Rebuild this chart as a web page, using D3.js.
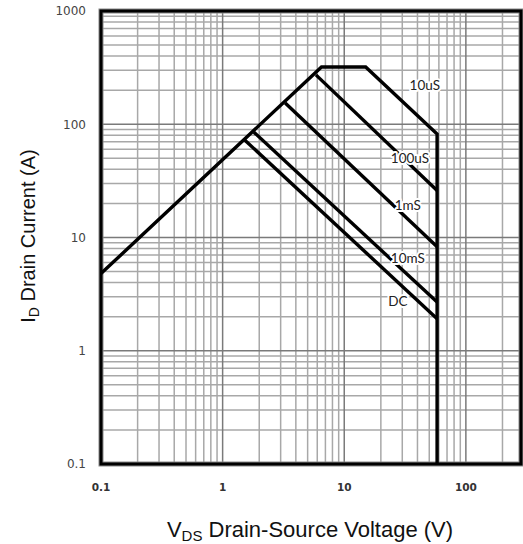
<!DOCTYPE html>
<html>
<head>
<meta charset="utf-8">
<script src="https://cdn.jsdelivr.net/npm/d3@7"></script>
<style>
  html, body { margin: 0; padding: 0; background: #fff; }
  svg { display: block; }
</style>
</head>
<body>
<div id="chart"></div>
<script>
// safe operating area, log-log

const X_DOMAIN = [0.1, 284];
const Y_DOMAIN = [0.1, 1000];
const X_TICKS = [0.1, 1, 10, 100];
const Y_TICKS = [0.1, 1, 10, 100, 1000];

// outer envelope: Rds(on) limit, 10uS current limit, 10uS line, BVdss wall
const OUTLINE_V = [0.1, 6.5, 15, 58, 58];
const OUTLINE_I = [4.8, 320, 320, 82, 0.1];

const PULSE_NAMES = ['100uS', '1mS', '10mS', 'DC'];
const PULSE_V = [[5.85, 58], [3.27, 58], [1.81, 58], [1.51, 58]];
const PULSE_I = [[273, 26], [154, 8.3], [85, 2.69], [73, 1.92]];

const LABEL_TEXT = ['10uS', '100uS', '1mS', '10mS', 'DC'];
const LABEL_V = [46, 34.7, 33.3, 33.3, 27.6];
const LABEL_I = [223, 50, 19.2, 6.6, 2.76];

const W = 523, H = 544;
const svg = d3.select('#chart').append('svg').attr('width', W).attr('height', H);

const x = d3.scaleLog().domain(X_DOMAIN).range([101, 521]);
const y = d3.scaleLog().domain(Y_DOMAIN).range([464, 11]);

// minor + major grid
const xMinor = [];
for (let d = 0.1; d < X_DOMAIN[1]; d *= 10) {
  for (let k = 2; k <= 9; k++) if (d * k <= X_DOMAIN[1]) xMinor.push(d * k);
}
const yMinor = [];
for (let d = 0.1; d < 1000; d *= 10) {
  for (let k = 2; k <= 9; k++) yMinor.push(d * k);
}

const grid = svg.append('g');
grid.selectAll('line.vx').data(xMinor).enter().append('line')
  .attr('x1', d => x(d)).attr('x2', d => x(d))
  .attr('y1', y.range()[0]).attr('y2', y.range()[1])
  .attr('stroke', '#a8a8a8').attr('stroke-width', 1.5);
grid.selectAll('line.hy').data(yMinor).enter().append('line')
  .attr('y1', d => y(d)).attr('y2', d => y(d))
  .attr('x1', x.range()[0]).attr('x2', x.range()[1])
  .attr('stroke', '#a8a8a8').attr('stroke-width', 1.5);
grid.selectAll('line.vmaj').data(X_TICKS.slice(1)).enter().append('line')
  .attr('x1', d => x(d)).attr('x2', d => x(d))
  .attr('y1', y.range()[0]).attr('y2', y.range()[1])
  .attr('stroke', '#7a7a7a').attr('stroke-width', 1.5);
grid.selectAll('line.hmaj').data(Y_TICKS.slice(1, -1)).enter().append('line')
  .attr('y1', d => y(d)).attr('y2', d => y(d))
  .attr('x1', x.range()[0]).attr('x2', x.range()[1])
  .attr('stroke', '#7a7a7a').attr('stroke-width', 1.5);

// frame
const fx = x.range()[0], fy = y.range()[1];
const fw = x.range()[1] - fx, fh = y.range()[0] - fy;
svg.append('rect').attr('x', fx).attr('y', fy).attr('width', fw).attr('height', fh)
  .attr('fill', 'none').attr('stroke', '#888').attr('stroke-width', 5);
svg.append('rect').attr('x', fx).attr('y', fy).attr('width', fw).attr('height', fh)
  .attr('fill', 'none').attr('stroke', '#000').attr('stroke-width', 3);

// curves
const line = d3.line().x(d => x(d[0])).y(d => y(d[1]));
const curves = [OUTLINE_V.map((v, i) => [v, OUTLINE_I[i]])]
  .concat(PULSE_V.map((vs, j) => vs.map((v, i) => [v, PULSE_I[j][i]])));
svg.append('g').selectAll('path').data(curves).enter().append('path')
  .attr('d', line)
  .attr('fill', 'none').attr('stroke', '#000').attr('stroke-width', 3.4)
  .attr('stroke-linejoin', 'miter');

// curve labels
svg.append('g').selectAll('text').data(LABEL_TEXT).enter().append('text')
  .attr('x', (d, i) => x(LABEL_V[i]))
  .attr('y', (d, i) => y(LABEL_I[i]))
  .attr('dy', '0.35em')
  .attr('text-anchor', 'middle')
  .attr('style', "font-family:Lato,'Open Sans',sans-serif;font-size:13.5px;fill:#222;paint-order:stroke fill;stroke:#fff;stroke-width:4px;stroke-linejoin:round;")
  .text(d => d);

// tick labels
const fmt = d => (d < 1 ? d3.format('.1f')(d) : d3.format('d')(d));
svg.append('g').selectAll('text').data(X_TICKS).enter().append('text')
  .attr('x', d => x(d)).attr('y', 491)
  .attr('text-anchor', 'middle')
  .attr('style', "font-family:'DejaVu Sans',sans-serif;font-weight:bold;font-size:10.5px;fill:#333;")
  .text(fmt);
svg.append('g').selectAll('text').data(Y_TICKS).enter().append('text')
  .attr('x', 86).attr('y', d => y(d))
  .attr('dy', '0.36em')
  .attr('text-anchor', 'end')
  .attr('style', "font-family:'DejaVu Sans',sans-serif;font-size:12px;fill:#444;")
  .text(fmt);

// axis titles
const titleStyle = "font-family:'Liberation Sans',Arial,sans-serif;fill:#111;";
const xt = svg.append('text').attr('x', 310).attr('y', 537)
  .attr('text-anchor', 'middle').attr('style', titleStyle + 'font-size:22px;');
xt.append('tspan').text('V');
xt.append('tspan').attr('dy', 4).attr('font-size', '15px').text('DS');
xt.append('tspan').attr('dy', -4).text(' Drain-Source Voltage (V)');

const yt = svg.append('text')
  .attr('transform', 'translate(35,236) rotate(-90)')
  .attr('text-anchor', 'middle').attr('style', titleStyle + 'font-size:20px;');
yt.append('tspan').text('I');
yt.append('tspan').attr('dy', 4).attr('font-size', '14px').text('D');
yt.append('tspan').attr('dy', -4).text(' Drain Current (A)');
</script>
</body>
</html>
